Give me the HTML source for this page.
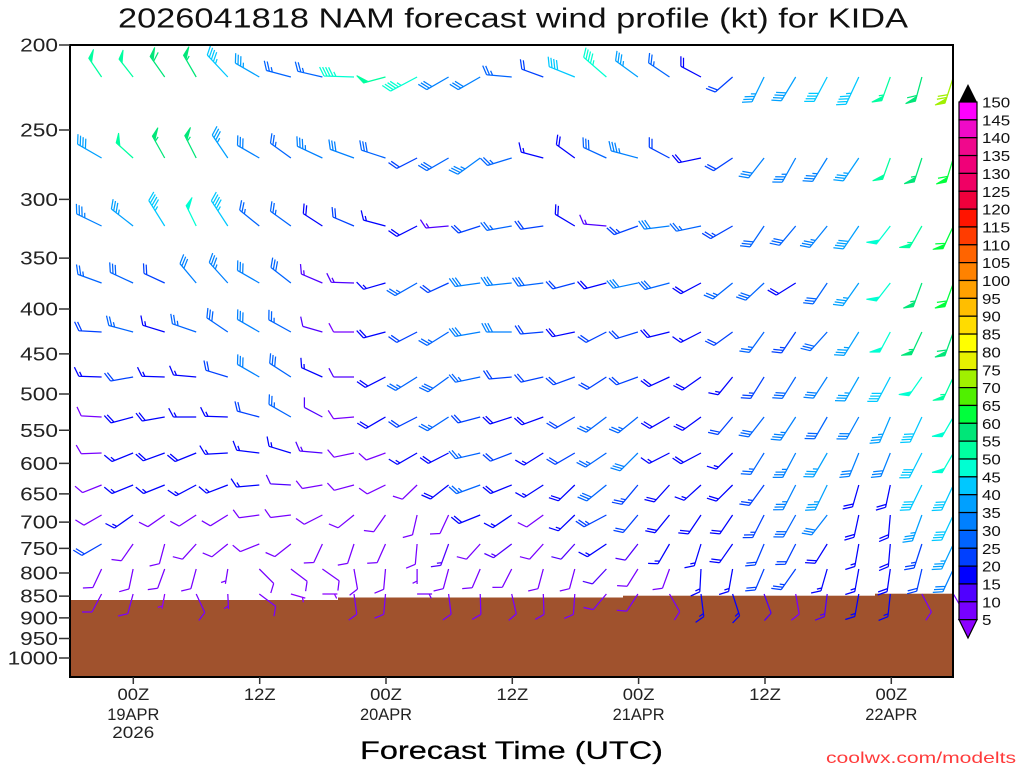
<!DOCTYPE html>
<html><head><meta charset="utf-8">
<style>
html,body{margin:0;padding:0;background:#fff;}
svg{display:block;}
text{font-family:"Liberation Sans",sans-serif;}
</style></head>
<body>
<svg id="c" width="1024" height="768" viewBox="0 0 1024 768" xmlns="http://www.w3.org/2000/svg">
<rect width="1024" height="768" fill="#fff"/>
<text x="118" y="27.5" font-size="28" textLength="790" lengthAdjust="spacingAndGlyphs" fill="#111">2026041818 NAM forecast wind profile (kt) for KIDA</text>

<!-- ground -->
<g fill="#a0522d">
<rect x="70" y="600" width="268" height="77"/>
<rect x="338" y="597.5" width="285" height="79.5"/>
<rect x="623" y="595.7" width="252" height="81.3"/>
<rect x="875" y="593.7" width="78" height="83.3"/>
</g>

<g id="barbs"></g>

<!-- frame -->
<rect x="70" y="45" width="883" height="632" fill="none" stroke="#000" stroke-width="2"/>

<!-- y ticks -->
<path d="M59 45H70M59 130H70M59 199.4H70M59 258.1H70M59 309H70M59 353.9H70M59 394H70M59 430.3H70M59 463.4H70M59 493.9H70M59 522.1H70M59 548.4H70M59 573H70M59 596.1H70M59 617.9H70M59 638.5H70M59 658H70" stroke="#333" stroke-width="1.5"/>
<g font-size="18" fill="#222">
<text x="20.2" y="51.5" textLength="37.8" lengthAdjust="spacingAndGlyphs">200</text>
<text x="20.2" y="136.5" textLength="37.8" lengthAdjust="spacingAndGlyphs">250</text>
<text x="20.2" y="205.9" textLength="37.8" lengthAdjust="spacingAndGlyphs">300</text>
<text x="20.2" y="264.6" textLength="37.8" lengthAdjust="spacingAndGlyphs">350</text>
<text x="20.2" y="315.5" textLength="37.8" lengthAdjust="spacingAndGlyphs">400</text>
<text x="20.2" y="360.4" textLength="37.8" lengthAdjust="spacingAndGlyphs">450</text>
<text x="20.2" y="400.5" textLength="37.8" lengthAdjust="spacingAndGlyphs">500</text>
<text x="20.2" y="436.8" textLength="37.8" lengthAdjust="spacingAndGlyphs">550</text>
<text x="20.2" y="469.9" textLength="37.8" lengthAdjust="spacingAndGlyphs">600</text>
<text x="20.2" y="500.4" textLength="37.8" lengthAdjust="spacingAndGlyphs">650</text>
<text x="20.2" y="528.6" textLength="37.8" lengthAdjust="spacingAndGlyphs">700</text>
<text x="20.2" y="554.9" textLength="37.8" lengthAdjust="spacingAndGlyphs">750</text>
<text x="20.2" y="579.5" textLength="37.8" lengthAdjust="spacingAndGlyphs">800</text>
<text x="20.2" y="602.6" textLength="37.8" lengthAdjust="spacingAndGlyphs">850</text>
<text x="20.2" y="624.4" textLength="37.8" lengthAdjust="spacingAndGlyphs">900</text>
<text x="20.2" y="645" textLength="37.8" lengthAdjust="spacingAndGlyphs">950</text>
<text x="7.6" y="664.5" textLength="50.4" lengthAdjust="spacingAndGlyphs">1000</text>
</g>

<!-- x ticks -->
<path d="M133.3 677V684M259.7 677V684M386 677V684M512.3 677V684M638.6 677V684M765 677V684M891.3 677V684" stroke="#333" stroke-width="1.5"/>
<g font-size="16.5" fill="#222">
<text x="117.5" y="700" textLength="31.7" lengthAdjust="spacingAndGlyphs">00Z</text>
<text x="243.9" y="700" textLength="31.7" lengthAdjust="spacingAndGlyphs">12Z</text>
<text x="370.2" y="700" textLength="31.7" lengthAdjust="spacingAndGlyphs">00Z</text>
<text x="496.5" y="700" textLength="31.7" lengthAdjust="spacingAndGlyphs">12Z</text>
<text x="622.8" y="700" textLength="31.7" lengthAdjust="spacingAndGlyphs">00Z</text>
<text x="749.2" y="700" textLength="31.7" lengthAdjust="spacingAndGlyphs">12Z</text>
<text x="875.5" y="700" textLength="31.7" lengthAdjust="spacingAndGlyphs">00Z</text>
<text x="107.3" y="720" textLength="52" lengthAdjust="spacingAndGlyphs">19APR</text>
<text x="360" y="720" textLength="52" lengthAdjust="spacingAndGlyphs">20APR</text>
<text x="612.6" y="720" textLength="52" lengthAdjust="spacingAndGlyphs">21APR</text>
<text x="865.3" y="720" textLength="52" lengthAdjust="spacingAndGlyphs">22APR</text>
<text x="112.3" y="738" textLength="42" lengthAdjust="spacingAndGlyphs">2026</text>
</g>
<text x="360" y="759" font-size="25" textLength="303" lengthAdjust="spacingAndGlyphs" fill="#000" stroke="#000" stroke-width="0.25">Forecast Time (UTC)</text>
<text x="826" y="763" font-size="16" textLength="190" lengthAdjust="spacingAndGlyphs" fill="#ff3b3b">coolwx.com/modelts</text>

<!-- colorbar -->
<polygon points="959,102 977,102 968,84" fill="#000"/>
<g stroke="#000" stroke-width="1.2">
<rect x="959" y="102" width="18" height="17.85" fill="#ff00ff"/>
<rect x="959" y="119.85" width="18" height="17.85" fill="#f00ac8"/>
<rect x="959" y="137.7" width="18" height="17.85" fill="#f0088c"/>
<rect x="959" y="155.55" width="18" height="17.85" fill="#f00078"/>
<rect x="959" y="173.4" width="18" height="17.85" fill="#f00064"/>
<rect x="959" y="191.25" width="18" height="17.85" fill="#f0003c"/>
<rect x="959" y="209.1" width="18" height="17.85" fill="#ff1400"/>
<rect x="959" y="226.95" width="18" height="17.85" fill="#ff3c00"/>
<rect x="959" y="244.8" width="18" height="17.85" fill="#ff6400"/>
<rect x="959" y="262.65" width="18" height="17.85" fill="#ff8200"/>
<rect x="959" y="280.5" width="18" height="17.85" fill="#ffa000"/>
<rect x="959" y="298.35" width="18" height="17.85" fill="#ffbe00"/>
<rect x="959" y="316.2" width="18" height="17.85" fill="#ffdc00"/>
<rect x="959" y="334.05" width="18" height="17.85" fill="#ffff00"/>
<rect x="959" y="351.9" width="18" height="17.85" fill="#e6f000"/>
<rect x="959" y="369.75" width="18" height="17.85" fill="#a0f000"/>
<rect x="959" y="387.6" width="18" height="17.85" fill="#50f000"/>
<rect x="959" y="405.45" width="18" height="17.85" fill="#00ff3c"/>
<rect x="959" y="423.3" width="18" height="17.85" fill="#00e678"/>
<rect x="959" y="441.15" width="18" height="17.85" fill="#00ffa0"/>
<rect x="959" y="459" width="18" height="17.85" fill="#00ffd2"/>
<rect x="959" y="476.85" width="18" height="17.85" fill="#00c8ff"/>
<rect x="959" y="494.7" width="18" height="17.85" fill="#00a0ff"/>
<rect x="959" y="512.55" width="18" height="17.85" fill="#0080ff"/>
<rect x="959" y="530.4" width="18" height="17.85" fill="#0064ff"/>
<rect x="959" y="548.25" width="18" height="17.85" fill="#0040ff"/>
<rect x="959" y="566.1" width="18" height="17.85" fill="#0000ff"/>
<rect x="959" y="583.95" width="18" height="17.85" fill="#5000ff"/>
<rect x="959" y="601.8" width="18" height="17.85" fill="#7800ff"/>
<polygon points="959,619.65 977,619.65 968,638" fill="#8c00ff"/>
</g>
<g font-size="15" fill="#111">
<text x="982" y="107.5" textLength="28.2" lengthAdjust="spacingAndGlyphs">150</text>
<text x="982" y="125.4" textLength="28.2" lengthAdjust="spacingAndGlyphs">145</text>
<text x="982" y="143.2" textLength="28.2" lengthAdjust="spacingAndGlyphs">140</text>
<text x="982" y="161.1" textLength="28.2" lengthAdjust="spacingAndGlyphs">135</text>
<text x="982" y="178.9" textLength="28.2" lengthAdjust="spacingAndGlyphs">130</text>
<text x="982" y="196.8" textLength="28.2" lengthAdjust="spacingAndGlyphs">125</text>
<text x="982" y="214.6" textLength="28.2" lengthAdjust="spacingAndGlyphs">120</text>
<text x="982" y="232.5" textLength="28.2" lengthAdjust="spacingAndGlyphs">115</text>
<text x="982" y="250.3" textLength="28.2" lengthAdjust="spacingAndGlyphs">110</text>
<text x="982" y="268.2" textLength="28.2" lengthAdjust="spacingAndGlyphs">105</text>
<text x="982" y="286" textLength="28.2" lengthAdjust="spacingAndGlyphs">100</text>
<text x="982" y="303.9" textLength="18.8" lengthAdjust="spacingAndGlyphs">95</text>
<text x="982" y="321.7" textLength="18.8" lengthAdjust="spacingAndGlyphs">90</text>
<text x="982" y="339.6" textLength="18.8" lengthAdjust="spacingAndGlyphs">85</text>
<text x="982" y="357.4" textLength="18.8" lengthAdjust="spacingAndGlyphs">80</text>
<text x="982" y="375.3" textLength="18.8" lengthAdjust="spacingAndGlyphs">75</text>
<text x="982" y="393.1" textLength="18.8" lengthAdjust="spacingAndGlyphs">70</text>
<text x="982" y="411" textLength="18.8" lengthAdjust="spacingAndGlyphs">65</text>
<text x="982" y="428.8" textLength="18.8" lengthAdjust="spacingAndGlyphs">60</text>
<text x="982" y="446.7" textLength="18.8" lengthAdjust="spacingAndGlyphs">55</text>
<text x="982" y="464.5" textLength="18.8" lengthAdjust="spacingAndGlyphs">50</text>
<text x="982" y="482.4" textLength="18.8" lengthAdjust="spacingAndGlyphs">45</text>
<text x="982" y="500.2" textLength="18.8" lengthAdjust="spacingAndGlyphs">40</text>
<text x="982" y="518.1" textLength="18.8" lengthAdjust="spacingAndGlyphs">35</text>
<text x="982" y="535.9" textLength="18.8" lengthAdjust="spacingAndGlyphs">30</text>
<text x="982" y="553.8" textLength="18.8" lengthAdjust="spacingAndGlyphs">25</text>
<text x="982" y="571.6" textLength="18.8" lengthAdjust="spacingAndGlyphs">20</text>
<text x="982" y="589.5" textLength="18.8" lengthAdjust="spacingAndGlyphs">15</text>
<text x="982" y="607.3" textLength="18.8" lengthAdjust="spacingAndGlyphs">10</text>
<text x="982" y="625.2" textLength="9.4" lengthAdjust="spacingAndGlyphs">5</text>
</g>
</svg>
<script>
(function(){
var NS="http://www.w3.org/2000/svg";
var g=document.getElementById('barbs');
var B=['#ff00ff','#f00ac8','#f0088c','#f00078','#f00064','#f0003c','#ff1400','#ff3c00','#ff6400','#ff8200','#ffa000','#ffbe00','#ffdc00','#ffff00','#e6f000','#a0f000','#50f000','#00ff3c','#00e678','#00ffa0','#00ffd2','#00c8ff','#00a0ff','#0080ff','#0064ff','#0040ff','#0000ff','#5000ff','#7800ff'];
function col(s){if(s<5)return '#8c00ff';var i=29-Math.floor(s/5);if(i<0)return '#000';return B[i];}
var rows=[77,158,226,283,332,377,417,453,485,515,544,569,594];
var D=[
"326,50 322,52 325,58 330,57 317,44 300,36 285,27 283,27 272,46 255,50 242,47 240,32 240,31 275,27 290,22 292,41 311,47 306,37 304,27 298,19 229,21 206,36 211,39 208,42 205,44 200,53 195,58 198,72",
"300,39 312,52 331,57 333,56 326,37 300,31 306,27 295,33 290,30 288,29 243,21 240,29 234,33 253,26 285,17 306,19 295,29 285,34 298,22 258,19 236,20 218,30 209,34 212,34 214,37 200,52 198,56 197,62",
"296,34 308,35 328,44 334,49 327,44 309,27 306,26 303,18 293,21 285,17 243,19 265,14 252,21 260,27 262,21 301,19 275,13 250,24 263,31 258,26 240,24 214,28 220,29 219,34 214,39 218,49 210,54 205,60",
"290,27 295,28 295,21 320,31 318,33 300,31 308,29 293,14 272,14 254,16 240,27 245,21 262,31 264,31 263,29 255,21 255,19 258,31 255,28 242,19 231,26 227,28 238,19 214,29 215,36 218,49 200,56 200,61",
"273,21 285,26 287,17 289,27 304,29 300,31 299,26 286,12 270,9 255,18 243,21 238,26 260,31 270,30 265,22 258,19 243,21 253,21 256,19 243,16 234,21 216,26 214,24 222,28 212,36 208,48 205,56 200,58",
"272,17 260,21 272,16 275,17 287,22 300,31 303,28 294,17 270,12 243,18 238,26 234,29 258,27 265,21 257,21 250,22 237,21 250,22 245,19 235,18 219,17 212,24 212,28 213,31 210,36 208,41 215,48 205,53",
"273,9 255,18 260,18 270,16 272,16 285,22 300,26 298,12 265,9 240,18 243,21 237,26 255,21 252,19 250,18 240,21 233,26 231,26 240,19 234,18 220,21 218,28 213,33 210,29 209,31 203,36 205,41 210,48",
"268,9 248,17 250,18 248,18 267,16 277,16 287,17 275,13 258,9 250,9 240,16 243,18 257,26 249,21 238,16 240,21 236,26 225,31 243,16 242,18 225,16 212,26 208,33 210,36 202,31 202,31 207,41 210,48",
"248,9 248,17 248,16 242,16 249,16 265,17 273,12 260,9 255,9 244,8 226,9 232,18 250,26 248,19 237,16 226,18 231,29 220,24 222,19 228,17 225,18 216,23 207,33 206,36 196,19 192,19 206,41 205,41",
"240,9 235,17 235,9 237,8 238,8 262,9 263,9 243,8 231,9 215,9 193,9 205,9 248,19 236,17 234,9 226,16 242,23 220,21 219,18 214,18 214,19 207,23 209,28 218,31 192,19 185,19 200,36 205,41",
"240,21 215,9 195,9 222,9 231,8 248,8 232,9 205,9 198,9 204,9 185,9 200,13 222,9 233,13 222,9 222,12 236,16 218,12 210,15 197,16 215,18 203,21 207,21 212,19 190,17 185,19 198,24 205,36",
"205,9 192,8 200,9 195,9 189,6 135,8 127,8 125,8 170,8 185,8 180,7 195,9 203,9 207,9 195,9 195,9 223,12 212,9 200,9 183,16 190,15 203,21 215,24 196,16 190,17 188,19 193,21 205,31",
"208,9 195,9 190,3 155,8 177,7 127,8 106,3 90,3 172,8 185,8 90,6 173,8 178,8 167,8 178,8 184,8 220,9 213,9 150,8 173,16 162,16 160,12 170,8 187,13 190,16 186,16 152,8 150,8"
];
function f1(v){return Math.round(v*10)/10;}
function barb(x,y,dir,s){
  var n=Math.round(s/5),f=Math.floor(n/10),rem=n%10,l=Math.floor(rem/2),sh=rem%2;
  var el=2*f+l+sh;
  var L=n<2?15:Math.min(30,18+2.4*el);
  var a=dir*Math.PI/180,ux=Math.sin(a),uy=-Math.cos(a);
  var b=(dir+62)*Math.PI/180,fx=Math.sin(b),fy=-Math.cos(b);
  var ex=x+ux*L,ey=y+uy*L;
  var d='M'+f1(x)+' '+f1(y)+'L'+f1(ex)+' '+f1(ey);
  var fl='';
  var pos=0,sp=3,FL=10,i,px,py;
  for(i=0;i<f;i++){
    px=ex-ux*pos;py=ey-uy*pos;
    var qx=ex-ux*(pos+5),qy=ey-uy*(pos+5);
    fl+='M'+f1(px)+' '+f1(py)+'L'+f1(px+fx*FL)+' '+f1(py+fy*FL)+'L'+f1(qx)+' '+f1(qy)+'Z';
    pos+=6;
  }
  for(i=0;i<l;i++){
    px=ex-ux*pos;py=ey-uy*pos;
    d+='M'+f1(px)+' '+f1(py)+'L'+f1(px+fx*FL)+' '+f1(py+fy*FL);
    pos+=sp;
  }
  if(sh){
    if(pos===0)pos=sp;
    px=ex-ux*pos;py=ey-uy*pos;
    d+='M'+f1(px)+' '+f1(py)+'L'+f1(px+fx*FL*0.5)+' '+f1(py+fy*FL*0.5);
  }
  var c=col(s);
  var p=document.createElementNS(NS,'path');
  p.setAttribute('d',d);p.setAttribute('stroke',c);p.setAttribute('stroke-width','1.25');p.setAttribute('fill','none');
  g.appendChild(p);
  if(fl){
    var q=document.createElementNS(NS,'path');
    q.setAttribute('d',fl);q.setAttribute('fill',c);q.setAttribute('stroke',c);q.setAttribute('stroke-width','1');
    g.appendChild(q);
  }
}
for(var r=0;r<rows.length;r++){
  var items=D[r].split(' ');
  for(var k=0;k<items.length;k++){
    var v=items[k].split(',');
    barb(70+31.55*(k+1),rows[r],+v[0],+v[1]);
  }
}
})();
</script>
</body></html>
